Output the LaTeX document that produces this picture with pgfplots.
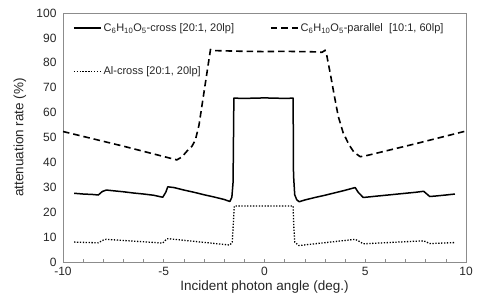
\documentclass[border=0pt]{standalone}
\usepackage{pgfplots}
\pgfplotsset{compat=1.18}
\usepackage{fontspec}
\setmainfont{Liberation Sans}
\definecolor{axgray}{HTML}{8C8C8C}
\definecolor{txt}{HTML}{262626}
\begin{document}
\begin{tikzpicture}
\begin{axis}[
  name=ax,
  scale only axis,
  width=403pt, height=249pt,
  xmin=-10, xmax=10, ymin=0, ymax=100,
  xtick={-10,-5,0,5,10},
  minor xtick={-9,-8,-7,-6,-4,-3,-2,-1,1,2,3,4,6,7,8,9},
  ytick={0,10,...,100},
  xtick pos=lower, ytick pos=left,
  tick align=inside,
  major tick length=3pt, minor tick length=3pt,
  ytick style={draw=none},
  xtick style={axgray, line width=0.6pt},
  minor tick style={axgray, line width=0.6pt},
  axis line style={axgray, line width=0.7pt},
  /pgf/number format/assume math mode=true,
  ticklabel style={font=\fontsize{12}{14}\selectfont, text=txt},
  xticklabel style={yshift=-2pt},
  yticklabel style={xshift=-3pt},
  xlabel={Incident photon angle (deg.)},
  ylabel={attenuation rate (\%)},
  every axis x label/.style={at={(axis description cs:0.5,-0.1)}, anchor=center, font=\fontsize{13.5}{15}\selectfont, text=txt},
  every axis y label/.style={at={(axis description cs:-0.107,0.5)}, anchor=center, rotate=90, font=\fontsize{13.5}{15}\selectfont, text=txt},
  legend columns=2,
  legend style={draw=none, fill=none, at={(axis description cs:0.017,0.975)}, anchor=north west,
    font=\fontsize{11}{13}\selectfont, text=txt,
    /tikz/every even column/.append style={column sep=34pt},
    row sep=30pt},
  legend cell align=left,
  legend image code/.code={\draw[#1] (0cm,0cm) -- (0.95cm,0cm);},
]
\addplot[black, line width=1.5pt, line join=round] coordinates {
(-9.45,27.6) (-9,27.3) (-8.5,27.1) (-8.25,26.9) (-8.05,28.3) (-7.85,28.9) (-7.5,28.6) (-7,28.2) (-6.5,27.7) (-6,27.3) (-5.5,26.8) (-5.05,26.0) (-4.9,28.0) (-4.8,30.2) (-4.5,29.9) (-4,28.9) (-3.5,28.0) (-3,27.0) (-2.5,26.1) (-2,25.1) (-1.72,24.3) (-1.62,26) (-1.56,32) (-1.52,65.8) (-1,65.7) (0,65.9) (1,65.7) (1.42,65.8) (1.44,35) (1.5,27) (1.6,25) (1.72,24.2) (2,24.9) (2.5,25.9) (3,26.8) (3.5,27.8) (4,28.8) (4.5,29.9) (4.65,28) (4.9,25.9) (5.5,26.4) (6,26.8) (6.5,27.2) (7,27.6) (7.5,28.0) (7.9,28.4) (8.2,26.3) (8.5,26.5) (9,26.9) (9.45,27.3)
};
\addlegendentry{C\textsubscript{6}H\textsubscript{10}O\textsubscript{5}-cross [20:1, 20lp]}
\addplot[black, line width=1.6pt, dash pattern=on 6.5pt off 4pt] coordinates {
(-10,52.4) (-7,46.5) (-4.35,41) (-4.1,42.2) (-3.85,44.5) (-3.6,46.5) (-3.43,49) (-3.25,55) (-3.1,63) (-2.95,71) (-2.8,79) (-2.68,85.3) (-2.5,84.9) (-1,84.6) (0,84.5) (1,84.6) (2.5,84.4) (2.85,84.2) (3.0,85) (3.09,83) (3.28,75) (3.46,67) (3.66,58.5) (3.9,52) (4.2,47) (4.45,44) (4.75,42.3) (5,42.6) (7.5,47.5) (10,52.6)
};
\addlegendentry{C\textsubscript{6}H\textsubscript{10}O\textsubscript{5}-parallel\ \ [10:1, 60lp]}
\addplot[black, line width=1.3pt, dash pattern=on 1.3pt off 1.6pt] coordinates {
(-9.45,8.0) (-8.25,7.7) (-8.0,8.8) (-7.85,9.1) (-5.05,7.6) (-4.85,9.3) (-4.7,9.3) (-1.72,6.8) (-1.6,8) (-1.55,15) (-1.5,22.5) (1.42,22.5) (1.45,15) (1.5,8) (1.7,6.6) (4.5,9.1) (4.7,8.3) (4.9,7.3) (7.9,8.5) (8.2,7.4) (9.45,7.8)
};
\addlegendentry{Al-cross [20:1, 20lp]}
\end{axis}
\pgfresetboundingbox
\path[use as bounding box] ([shift={(-63pt,-39pt)}]ax.south west) rectangle ([shift={(11pt,13pt)}]ax.north east);
\end{tikzpicture}
\end{document}
